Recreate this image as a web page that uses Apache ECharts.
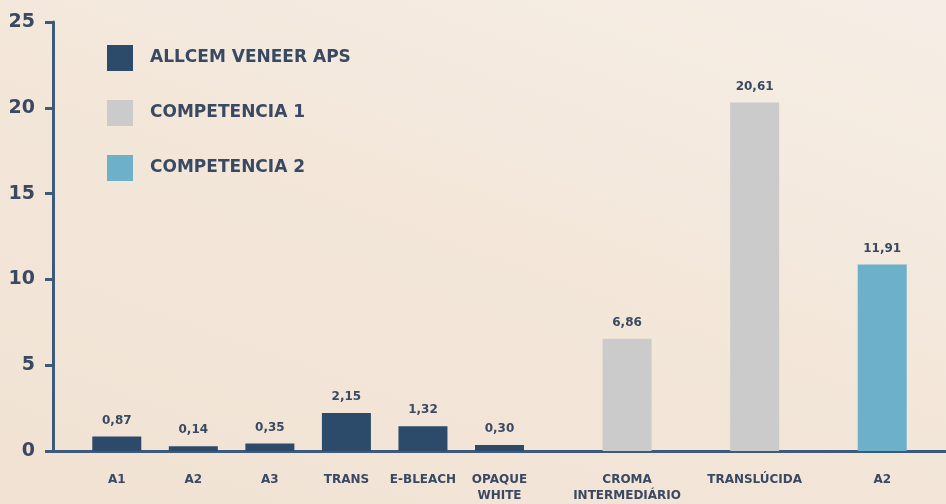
<!DOCTYPE html>
<html>
<head>
<meta charset="utf-8">
<style>
  html, body { margin: 0; padding: 0; }
  #chart { width: 946px; height: 504px; background: linear-gradient(200deg, #f6eee6 0%, #f3e7da 45%, #f1e2d3 100%); }
</style>
<script src="https://cdn.jsdelivr.net/npm/echarts@6/dist/echarts.min.js"></script>
</head>
<body>
<div id="chart"></div>
<script>
// categorias e valores (altura das barras)
var categories = ['A1', 'A2', 'A3', 'TRANS', 'E-BLEACH', 'OPAQUE\nWHITE', 'CROMA\nINTERMEDIÁRIO', 'TRANSLÚCIDA', 'A2'];
var valueLabels = ['0,87', '0,14', '0,35', '2,15', '1,32', '0,30', '6,86', '20,61', '11,91'];
var allcem = [0.85, 0.28, 0.43, 2.21, 1.44, 0.35, null, null, null];
var competencia1 = [null, null, null, null, null, null, 6.54, 20.31, null];
var competencia2 = [null, null, null, null, null, null, null, null, 10.87];
var seriesNames = ['ALLCEM VENEER APS', 'COMPETENCIA 1', 'COMPETENCIA 2'];
var yTicks = [0, 5, 10, 15, 20, 25];

// layout: posição de cada categoria numa grade de slots
var slotIndex = [2, 5, 8, 11, 14, 17, 22, 27, 32];
var slotCount = 35;

var axisData = [], labelBySlot = [];
for (var i = 0; i < slotCount; i++) { axisData.push(''); labelBySlot.push(''); }
function spread(values) {
  var out = [];
  for (var i = 0; i < slotCount; i++) out.push(null);
  values.forEach(function (v, k) { out[slotIndex[k]] = v; });
  return out;
}
categories.forEach(function (c, k) { axisData[slotIndex[k]] = c; labelBySlot[slotIndex[k]] = valueLabels[k]; });

var font = '"DejaVu Sans", sans-serif';
var textColor = '#3a4962';
var axisColor = '#3d5a7a';

function barSeries(name, values, color) {
  return {
    name: name,
    type: 'bar',
    barWidth: 49,
    barGap: '-100%',
    itemStyle: { color: color },
    label: {
      show: true,
      position: 'top',
      distance: 10,
      fontFamily: font,
      fontWeight: 'bold',
      fontSize: 12,
      color: textColor,
      formatter: function (p) { return labelBySlot[p.dataIndex]; }
    },
    data: spread(values)
  };
}

var chart = echarts.init(document.getElementById('chart'), null, { renderer: 'canvas' });
chart.setOption({
  backgroundColor: 'transparent',
  animation: false,
  grid: { left: 53, right: 0, top: 22, bottom: 49, containLabel: false },
  legend: {
    orient: 'vertical',
    left: 102,
    top: 40,
    itemWidth: 26,
    itemHeight: 26,
    itemGap: 29,
    icon: 'rect',
    textStyle: { fontFamily: font, fontWeight: 'bold', fontSize: 17, color: textColor, padding: [0, 0, 0, 12] },
    data: seriesNames
  },
  xAxis: {
    type: 'category',
    data: axisData,
    axisLine: { lineStyle: { color: axisColor, width: 3 } },
    axisTick: { show: false },
    axisLabel: {
      interval: 0,
      margin: 21,
      fontFamily: font,
      fontWeight: 'bold',
      fontSize: 12,
      lineHeight: 16,
      color: textColor
    }
  },
  yAxis: {
    type: 'value',
    min: yTicks[0],
    max: yTicks[yTicks.length - 1],
    interval: 5,
    splitLine: { show: false },
    axisLine: { show: true, lineStyle: { color: axisColor, width: 3 } },
    axisTick: { show: true, length: 8, lineStyle: { color: axisColor, width: 3 } },
    axisLabel: { margin: 18, fontFamily: font, fontWeight: 'bold', fontSize: 19, color: textColor }
  },
  series: [
    barSeries(seriesNames[0], allcem, '#2c4b6b'),
    barSeries(seriesNames[1], competencia1, '#cbcbcb'),
    barSeries(seriesNames[2], competencia2, '#6cb0c9')
  ]
});
</script>
</body>
</html>
